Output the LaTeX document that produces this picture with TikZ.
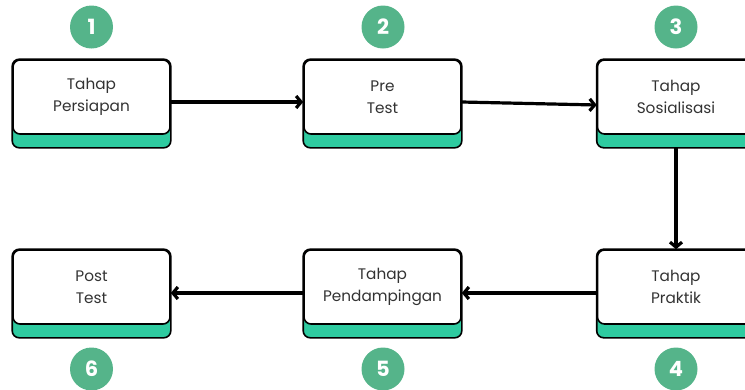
\documentclass[tikz,border=0pt]{standalone}
\usepackage{fontspec}
\setmainfont{Poppins}
\usetikzlibrary{arrows.meta,backgrounds}
\definecolor{numgreen}{HTML}{55B48A}
\definecolor{accent}{HTML}{2ECBA0}
\definecolor{txt}{HTML}{333333}
\tikzset{
  stepbox/.style={draw=black, line width=1.6pt, fill=white, rounded corners=7pt,
    minimum width=157pt, minimum height=74pt, inner sep=0pt, align=center,
    font=\fontsize{15.3}{22}\selectfont, text=txt},
  numcirc/.style={circle, fill=numgreen, minimum size=43pt, inner sep=0pt,
    text=white, font=\fontsize{21}{21}\selectfont\bfseries},
  flow/.style={line width=3.2pt, -{Straight Barb[length=5pt,width=12pt,line width=3.2pt]}},
}
\newcommand{\accentbar}[1]{%
  \begin{scope}[on background layer]
    \draw[fill=accent, line width=1.6pt, rounded corners=7pt]
      (#1.north west) rectangle ([yshift=-13pt]#1.south east);
  \end{scope}}
\begin{document}
\begin{tikzpicture}[x=1pt,y=-1pt]
\useasboundingbox (0,0) rectangle (745,389);
\begin{scope}
\clip (0,0) rectangle (745,389);
\node[stepbox] (b1) at (91.5,97) {Tahap\\Persiapan};
\node[stepbox] (b2) at (382.5,97) {Pre\\Test};
\node[stepbox] (b3) at (676,97) {Tahap\\Sosialisasi};
\node[stepbox] (b4) at (676,287) {Tahap\\Praktik};
\node[stepbox] (b5) at (382.5,287) {Tahap\\Pendampingan};
\node[stepbox] (b6) at (91.5,287) {Post\\Test};
\accentbar{b1}\accentbar{b2}\accentbar{b3}\accentbar{b4}\accentbar{b5}\accentbar{b6}
\node[numcirc] (n1) at (91.5,27) {1};
\node[numcirc] (n2) at (383,27) {2};
\node[numcirc] (n3) at (676,27) {3};
\node[numcirc] (n4) at (676,369) {4};
\node[numcirc] (n5) at (383,369) {5};
\node[numcirc] (n6) at (91.5,369) {6};
\draw[flow] ([yshift=-5pt]b1.east) -- ([yshift=-5pt]b2.west);
\draw[flow] ([yshift=-5pt]b2.east) -- ([yshift=-8pt]b3.west);
\draw[flow] ([yshift=-13pt]b3.south) -- (b4.north);
\draw[flow] ([yshift=-6pt]b4.west) -- ([yshift=-6pt]b5.east);
\draw[flow] ([yshift=-6pt]b5.west) -- ([yshift=-6pt]b6.east);
\end{scope}
\end{tikzpicture}
\end{document}
